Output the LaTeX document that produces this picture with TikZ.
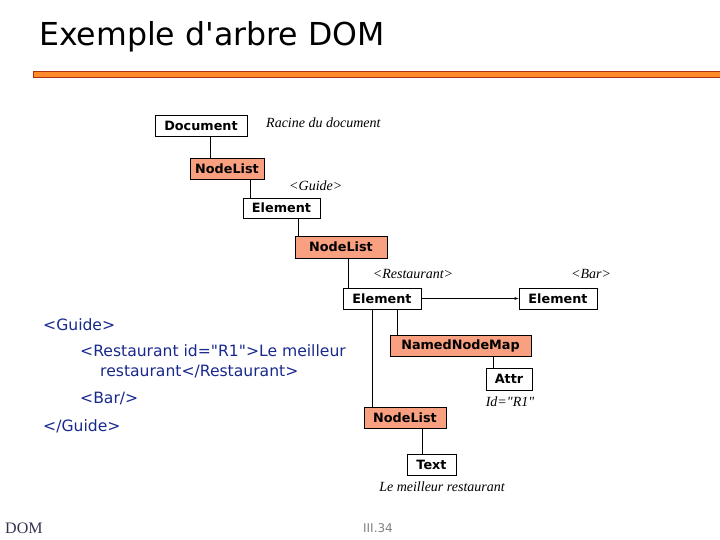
\documentclass[tikz,border=0pt]{standalone}
\usepackage{fontspec}
\setmainfont{Liberation Serif}
\setsansfont{DejaVu Sans}
\definecolor{salmon}{RGB}{248,160,128}
\definecolor{codeblue}{RGB}{24,40,140}
\definecolor{barorange}{RGB}{255,140,40}
\definecolor{barred}{RGB}{170,50,20}
\definecolor{footgray}{RGB}{50,50,80}
\begin{document}
\begin{tikzpicture}[x=1pt,y=-1pt]
	\tikzstyle{dom box}=[draw,line width=0.8pt,inner sep=0pt,minimum height=21pt,font=\sffamily\bfseries\fontsize{12.8}{14}\selectfont]
	\tikzstyle{list box}=[dom box,fill=salmon]
	\tikzstyle{dom label}=[inner sep=0pt,font=\itshape\fontsize{14}{16}\selectfont]
	\tikzstyle{code line}=[anchor=west,inner sep=0pt,text=codeblue,font=\sffamily\fontsize{15.6}{18}\selectfont]
	\useasboundingbox (0,0) rectangle (720,540);
	% title and bar
	\node(title)[anchor=west,inner sep=0pt,font=\sffamily\fontsize{31.6}{36}\selectfont]at(39,37){Exemple d\textquotesingle arbre DOM};
	\draw[barred,fill=barorange,line width=0.8pt](33,71)rectangle(722,77);
	% tree
	\node(doc)[dom box,minimum width=92pt]at(201,125.5){Document};
	\node(nl1)[list box,minimum width=74pt]at(227,168.5){NodeList};
	\node(el1)[dom box,minimum width=77pt,minimum height=20pt]at(281.5,208){Element};
	\node(nl2)[list box,minimum width=92pt,minimum height=22pt]at(341,247){NodeList};
	\node(el2)[dom box,minimum width=78pt]at(382,298.5){Element};
	\node(el3)[dom box,minimum width=78pt]at(558,298.5){Element};
	\node(nnm)[list box,minimum width=141pt]at(460.5,345.5){NamedNodeMap};
	\node(attr)[dom box,minimum width=46pt,minimum height=22pt]at(509,379){Attr};
	\node(nl3)[list box,minimum width=82pt]at(405,417.5){NodeList};
	\node(txt)[dom box,minimum width=49pt]at(431.5,464.5){Text};
	\draw([xshift=9pt]doc.south)--([xshift=9pt]doc.south|-nl1.north);
	\draw([xshift=23pt]nl1.south)--([xshift=23pt]nl1.south|-el1.north);
	\draw([xshift=16.5pt]el1.south)--([xshift=16.5pt]el1.south|-nl2.north);
	\draw([xshift=7pt]nl2.south)--([xshift=7pt]nl2.south|-el2.north);
	\draw([xshift=-10pt]el2.south)--([xshift=-10pt]el2.south|-nl3.north);
	\draw([xshift=15pt]el2.south)--([xshift=15pt]el2.south|-nnm.north);
	\draw([xshift=32.5pt]nnm.south)--([xshift=32.5pt]nnm.south|-attr.north);
	\draw([xshift=17pt]nl3.south)--([xshift=17pt]nl3.south|-txt.north);
	\draw[-latex](el2)--(el3);
	% labels
	\node(root)[dom label,anchor=west]at(266,123){Racine du document};
	\node(guide)[dom label,anchor=west]at(289,186){<Guide>};
	\node(resto)[dom label]at(413,274){<Restaurant>};
	\node(bar)[dom label]at(591,274){<Bar>};
	\node(id)[dom label]at(510,402){Id=\textquotedbl R1\textquotedbl};
	\node(best)[dom label]at(442,487){Le meilleur restaurant};
	% xml source
	\node(c1)[code line]at(43,325){<Guide>};
	\node(c2)[code line]at(80,351){<Restaurant id=\textquotedbl R1\textquotedbl>Le meilleur};
	\node(c3)[code line]at(100,372){restaurant</Restaurant>};
	\node(c4)[code line]at(80,399){<Bar/>};
	\node(c5)[code line]at(43,426){</Guide>};
	% footer
	\node(foot)[anchor=west,inner sep=0pt,text=footgray,font=\fontsize{16}{18}\selectfont]at(5,528){DOM};
	\node(page)[inner sep=0pt,text=gray,font=\sffamily\fontsize{12}{14}\selectfont]at(378,528){III.34};
\end{tikzpicture}
\end{document}
